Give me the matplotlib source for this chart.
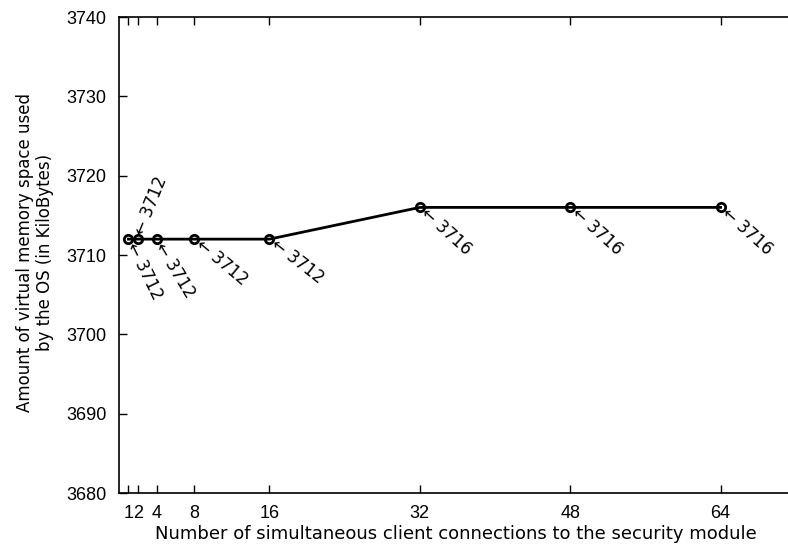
import matplotlib
matplotlib.use("Agg")
import matplotlib.pyplot as plt

plt.rcParams['font.family'] = ['Liberation Sans', 'DejaVu Sans']

connections = [1, 2, 4, 8, 16, 32, 48, 64]
memory_kb = [3712, 3712, 3712, 3712, 3712, 3716, 3716, 3716]
label_angles = [-64, 68, -59, -40, -38, -42, -42, -42]
x_ticks = [1, 2, 4, 8, 16, 32, 48, 64]
y_ticks = [3680, 3690, 3700, 3710, 3720, 3730, 3740]

fig = plt.figure(figsize=(7.88, 5.48), dpi=100)
W, H = 788, 548
left, right_px = 119, 119 + 80 * 9.4
top, bottom = 17, 493
ax = fig.add_axes([left / W, (H - bottom) / H, (right_px - left) / W, (bottom - top) / H])

ax.plot(connections, memory_kb, color='black', linewidth=2,
        marker='o', markersize=6, markerfacecolor='none',
        markeredgecolor='black', markeredgewidth=2, zorder=2)

for x, y, ang in zip(connections, memory_kb, label_angles):
    ax.text(x, y, ' \u2190 %d' % y, rotation=ang, rotation_mode='anchor',
            ha='left', va='center', fontsize=12, family='DejaVu Sans',
            color='black', zorder=3)

ax.set_xlim(0, 80)
ax.set_ylim(3680, 3740)
ax.set_xticks(x_ticks)
ax.set_xticklabels([str(t) for t in x_ticks])
ax.set_yticks(y_ticks)
ax.tick_params(direction='in', length=6, width=1, labelsize=13,
               top=True, right=True)
ax.tick_params(axis='x', pad=9)
ax.tick_params(axis='y', pad=9)
for s in ax.spines.values():
    s.set_linewidth(1.2)

fig.text(456 / W, 1 - 534 / H,
         'Number of simultaneous client connections to the security module',
         fontsize=13, family='DejaVu Sans', ha='center', va='center')
fig.text(35 / W, 1 - 252 / H,
         'Amount of virtual memory space used\nby the OS (in KiloBytes)',
         fontsize=12, family='DejaVu Sans', ha='center', va='center',
         rotation=90, multialignment='center', linespacing=1.1)

fig.savefig('out.png', dpi=100)
